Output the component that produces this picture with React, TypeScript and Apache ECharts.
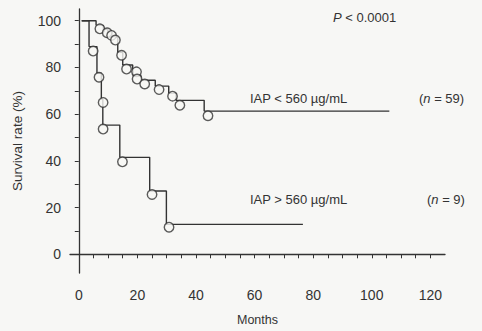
import React, { useEffect, useRef } from "react";
import * as echarts from "echarts";

// IAP < 560 µg/mL (n = 59): Kaplan-Meier step curve and marks
const hiStepX = [1, 5.9, 8.4, 9.9, 11.2, 13.3, 15, 18.4, 18.6, 21.2, 26.1, 30.7, 33.2, 42.8, 106];
const hiStepY = [100, 98, 96.3, 95, 93, 86.5, 81, 79.5, 76.5, 74.5, 72, 69, 65.9, 61.3, 61.3];
const hiCircX = [7.2, 9.7, 11.2, 12.5, 14.6, 16.3, 19.7, 19.9, 22.5, 27.4, 32, 34.5, 44.1];
const hiCircY = [96.5, 94.8, 93.7, 91.7, 85.2, 79.3, 78.1, 75, 72.9, 70.5, 67.7, 63.8, 59.3];

// IAP > 560 µg/mL (n = 9)
const loStepX = [1, 3.5, 6.2, 7.7, 8.2, 14, 24.2, 29.9, 76.5];
const loStepY = [100, 88.9, 77.5, 66.5, 55.3, 41.5, 27.1, 12.8, 12.8];
const loCircX = [4.9, 6.9, 8.3, 8.3, 14.9, 25, 30.8];
const loCircY = [87, 75.8, 65, 53.6, 39.6, 25.6, 11.6];

const xTicks = [0, 5, 10, 15, 20, 25, 30, 35, 40, 45, 50, 55, 60, 65, 70, 75, 80, 85, 90, 95, 100, 105, 110, 115, 120];
const xLabels = [0, 20, 40, 60, 80, 100, 120];
const yTicks = [0, 10, 20, 30, 40, 50, 60, 70, 80, 90, 100];
const yLabels = [0, 20, 40, 60, 80, 100];

const BG = "#f7f7f5";
const INK = "#333333";
const FONT = "Liberation Sans, Arial, sans-serif";

const zip = (xs: number[], ys: number[]) => xs.map((x, i) => [x, ys[i]]);

export default function App() {
  const ref = useRef<HTMLDivElement>(null);
  useEffect(() => {
    if (!ref.current) return;
    const chart = echarts.init(ref.current, undefined, { renderer: "svg" });
    const circleSeries = (data: number[][]) => ({
      type: "scatter",
      data,
      symbol: "circle",
      symbolSize: 9.5,
      itemStyle: { color: BG, borderColor: INK, borderWidth: 1.4 },
      z: 3,
    });
    const stepSeries = (data: number[][]) => ({
      type: "line",
      data,
      step: "end",
      showSymbol: false,
      lineStyle: { color: INK, width: 1.4 },
      z: 2,
    });
    const italic = { i: { fontStyle: "italic", fontSize: 13, fontFamily: FONT, fill: INK } };
    chart.setOption({
      animation: false,
      backgroundColor: BG,
      grid: { left: 70, top: 9, width: 375, height: 267, containLabel: false },
      xAxis: {
        type: "value",
        min: -3,
        max: 125,
        name: "Months",
        nameLocation: "middle",
        nameGap: 40,
        nameTextStyle: { color: INK, fontSize: 12.5, fontFamily: FONT },
        splitLine: { show: false },
        axisLine: { lineStyle: { color: INK, width: 1.3 } },
        axisTick: { customValues: xTicks, length: 4, lineStyle: { color: INK } },
        axisLabel: { customValues: xLabels, margin: 15, fontSize: 14, color: INK, fontFamily: FONT },
      },
      yAxis: {
        type: "value",
        min: -8,
        max: 105,
        name: "Survival rate (%)",
        nameLocation: "middle",
        nameGap: 46,
        nameTextStyle: { color: INK, fontSize: 13.5, fontFamily: FONT },
        splitLine: { show: false },
        axisLine: { lineStyle: { color: INK, width: 1.3 } },
        axisTick: { customValues: yTicks, length: 4, lineStyle: { color: INK } },
        axisLabel: { customValues: yLabels, margin: 9, fontSize: 14, color: INK, fontFamily: FONT },
      },
      series: [
        stepSeries(zip(hiStepX, hiStepY)),
        circleSeries(zip(hiCircX, hiCircY)),
        stepSeries(zip(loStepX, loStepY)),
        circleSeries(zip(loCircX, loCircY)),
      ],
      graphic: [
        {
          type: "text", x: 333, y: 17,
          style: { text: "{i|P} < 0.0001", fill: INK, fontSize: 13, fontFamily: FONT, verticalAlign: "middle", rich: italic },
        },
        {
          type: "text", x: 250, y: 98,
          style: { text: "IAP < 560 µg/mL", fill: INK, fontSize: 13, fontFamily: FONT, verticalAlign: "middle" },
        },
        {
          type: "text", x: 419, y: 98,
          style: { text: "({i|n} = 59)", fill: INK, fontSize: 13, fontFamily: FONT, verticalAlign: "middle", rich: italic },
        },
        {
          type: "text", x: 250, y: 199,
          style: { text: "IAP > 560 µg/mL", fill: INK, fontSize: 13, fontFamily: FONT, verticalAlign: "middle" },
        },
        {
          type: "text", x: 427, y: 199,
          style: { text: "({i|n} = 9)", fill: INK, fontSize: 13, fontFamily: FONT, verticalAlign: "middle", rich: italic },
        },
      ],
    });
    return () => chart.dispose();
  }, []);
  return (
    <div
      ref={ref}
      style={{ position: "fixed", left: 0, top: 0, width: 482, height: 331, background: BG }}
    />
  );
}
